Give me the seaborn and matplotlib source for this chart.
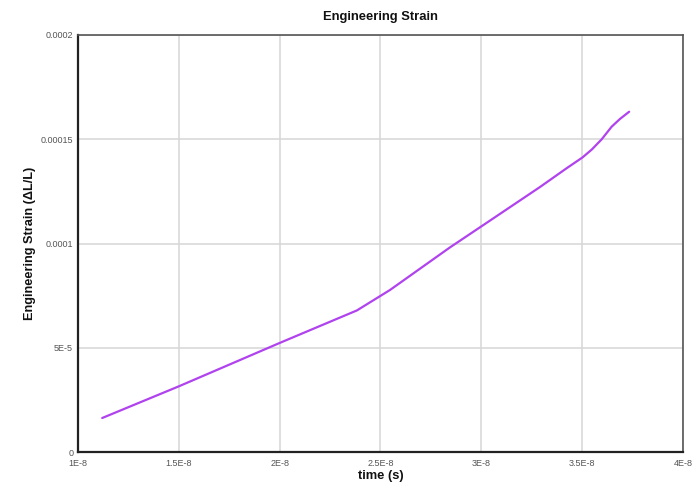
import matplotlib
matplotlib.use("Agg")
import matplotlib.pyplot as plt
import seaborn as sns
import pandas as pd

# Time samples (s) and engineering strain (dL/L)
time_s = [1.12e-8, 1.50e-8, 2.00e-8, 2.383e-8, 2.547e-8, 2.844e-8, 3.003e-8,
          3.291e-8, 3.423e-8, 3.502e-8, 3.548e-8, 3.597e-8, 3.646e-8,
          3.687e-8, 3.733e-8]
strain = [1.63e-5, 3.15e-5, 5.23e-5, 6.79e-5, 7.77e-5, 9.81e-5, 1.084e-4,
          1.271e-4, 1.361e-4, 1.413e-4, 1.451e-4, 1.500e-4, 1.560e-4,
          1.597e-4, 1.632e-4]

x_ticks = [1e-8, 1.5e-8, 2e-8, 2.5e-8, 3e-8, 3.5e-8, 4e-8]
x_tick_labels = ["1E-8", "1.5E-8", "2E-8", "2.5E-8", "3E-8", "3.5E-8", "4E-8"]
y_ticks = [0, 5e-5, 1e-4, 1.5e-4, 2e-4]
y_tick_labels = ["0", "5E-5", "0.0001", "0.00015", "0.0002"]

df = pd.DataFrame({"time": time_s, "strain": strain})

sns.set_theme(style="whitegrid")
plt.rcParams["font.family"] = ["Liberation Sans", "DejaVu Sans"]

fig = plt.figure(figsize=(6.96, 4.84), dpi=100)
ax = fig.add_axes([78 / 696, 1 - 452 / 484, (683 - 78) / 696, (452 - 35) / 484])

sns.lineplot(data=df, x="time", y="strain", ax=ax, color="#b043ee",
             linewidth=1.6, sort=False)

ax.set_xlim(1e-8, 4e-8)
ax.set_ylim(0, 2e-4)
ax.set_xticks(x_ticks)
ax.set_xticklabels(x_tick_labels)
ax.set_yticks(y_ticks)
ax.set_yticklabels(y_tick_labels)
ax.tick_params(axis="both", labelsize=6.5, colors="#555555", length=0)
ax.tick_params(axis="x", pad=5)
ax.tick_params(axis="y", pad=3.5)
ax.grid(True, color="#d6d6d6", linewidth=1.1)

for side, spine in ax.spines.items():
    spine.set_visible(True)
    spine.set_color("#222222" if side in ("left", "bottom") else "#555555")
    spine.set_linewidth(1.6 if side in ("left", "bottom") else 1.2)

ax.set_title("Engineering Strain", fontsize=9.4, fontweight="bold",
             color="#111111", pad=10.5)
ax.set_xlabel("time (s)", fontsize=9.3, fontweight="bold", color="#111111",
              labelpad=1.5)
ax.set_ylabel("Engineering Strain (\u0394L/L)", fontsize=9.2, fontweight="bold",
              color="#111111", labelpad=3)

fig.savefig("out.png", dpi=100)
